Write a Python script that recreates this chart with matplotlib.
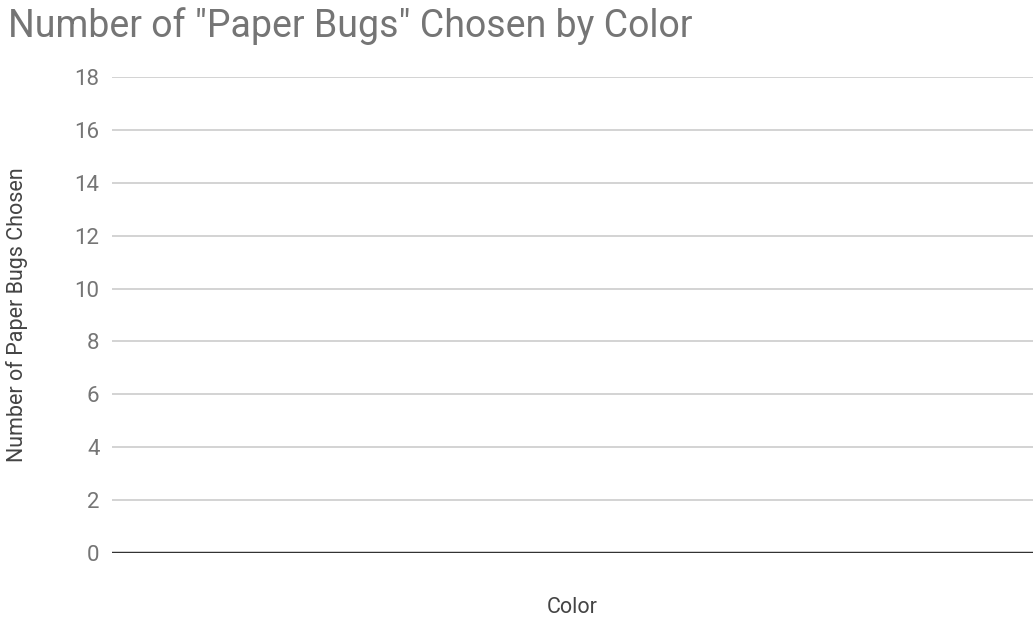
import matplotlib.pyplot as plt
import numpy as np

# chart data (the sheet has no bars drawn)
categories = []
counts = []
y_ticks = [0, 2, 4, 6, 8, 10, 12, 14, 16, 18]

title = 'Number of "Paper Bugs" Chosen by Color'
x_label = 'Color'
y_label = 'Number of Paper Bugs Chosen'

plt.rcParams['font.family'] = ['Roboto', 'DejaVu Sans']

fig = plt.figure(figsize=(10.33, 6.19), dpi=100)
ax = fig.add_axes([112 / 1033, 1 - 553 / 619, 1 - 112 / 1033, (553 - 77) / 619])

ax.bar(categories, counts, color='#4285f4')

ax.set_ylim(0, 18)
ax.set_xlim(-0.5, 0.5)
ax.set_yticks(y_ticks)
ax.set_xticks([])
ax.grid(axis='y', color='#cccccc', linewidth=1.2)
ax.set_axisbelow(True)
ax.axhline(0, color='#333333', linewidth=2.5, zorder=3)

for side in ['top', 'right', 'left', 'bottom']:
    ax.spines[side].set_visible(False)

ax.tick_params(axis='y', length=0, pad=9, labelsize=16, labelcolor='#757575')

ax.set_xlabel(x_label, fontsize=15.5, color='#444444', labelpad=32)
ax.yaxis.set_label_coords(-84 / 921, 0.5)
ax.set_ylabel(y_label, fontsize=15.5, color='#444444')

fig.text(8 / 1033, 1 - 37 / 619, title, fontsize=27, color='#757575', ha='left', va='baseline')

fig.savefig('out.png', dpi=100, facecolor='white')
